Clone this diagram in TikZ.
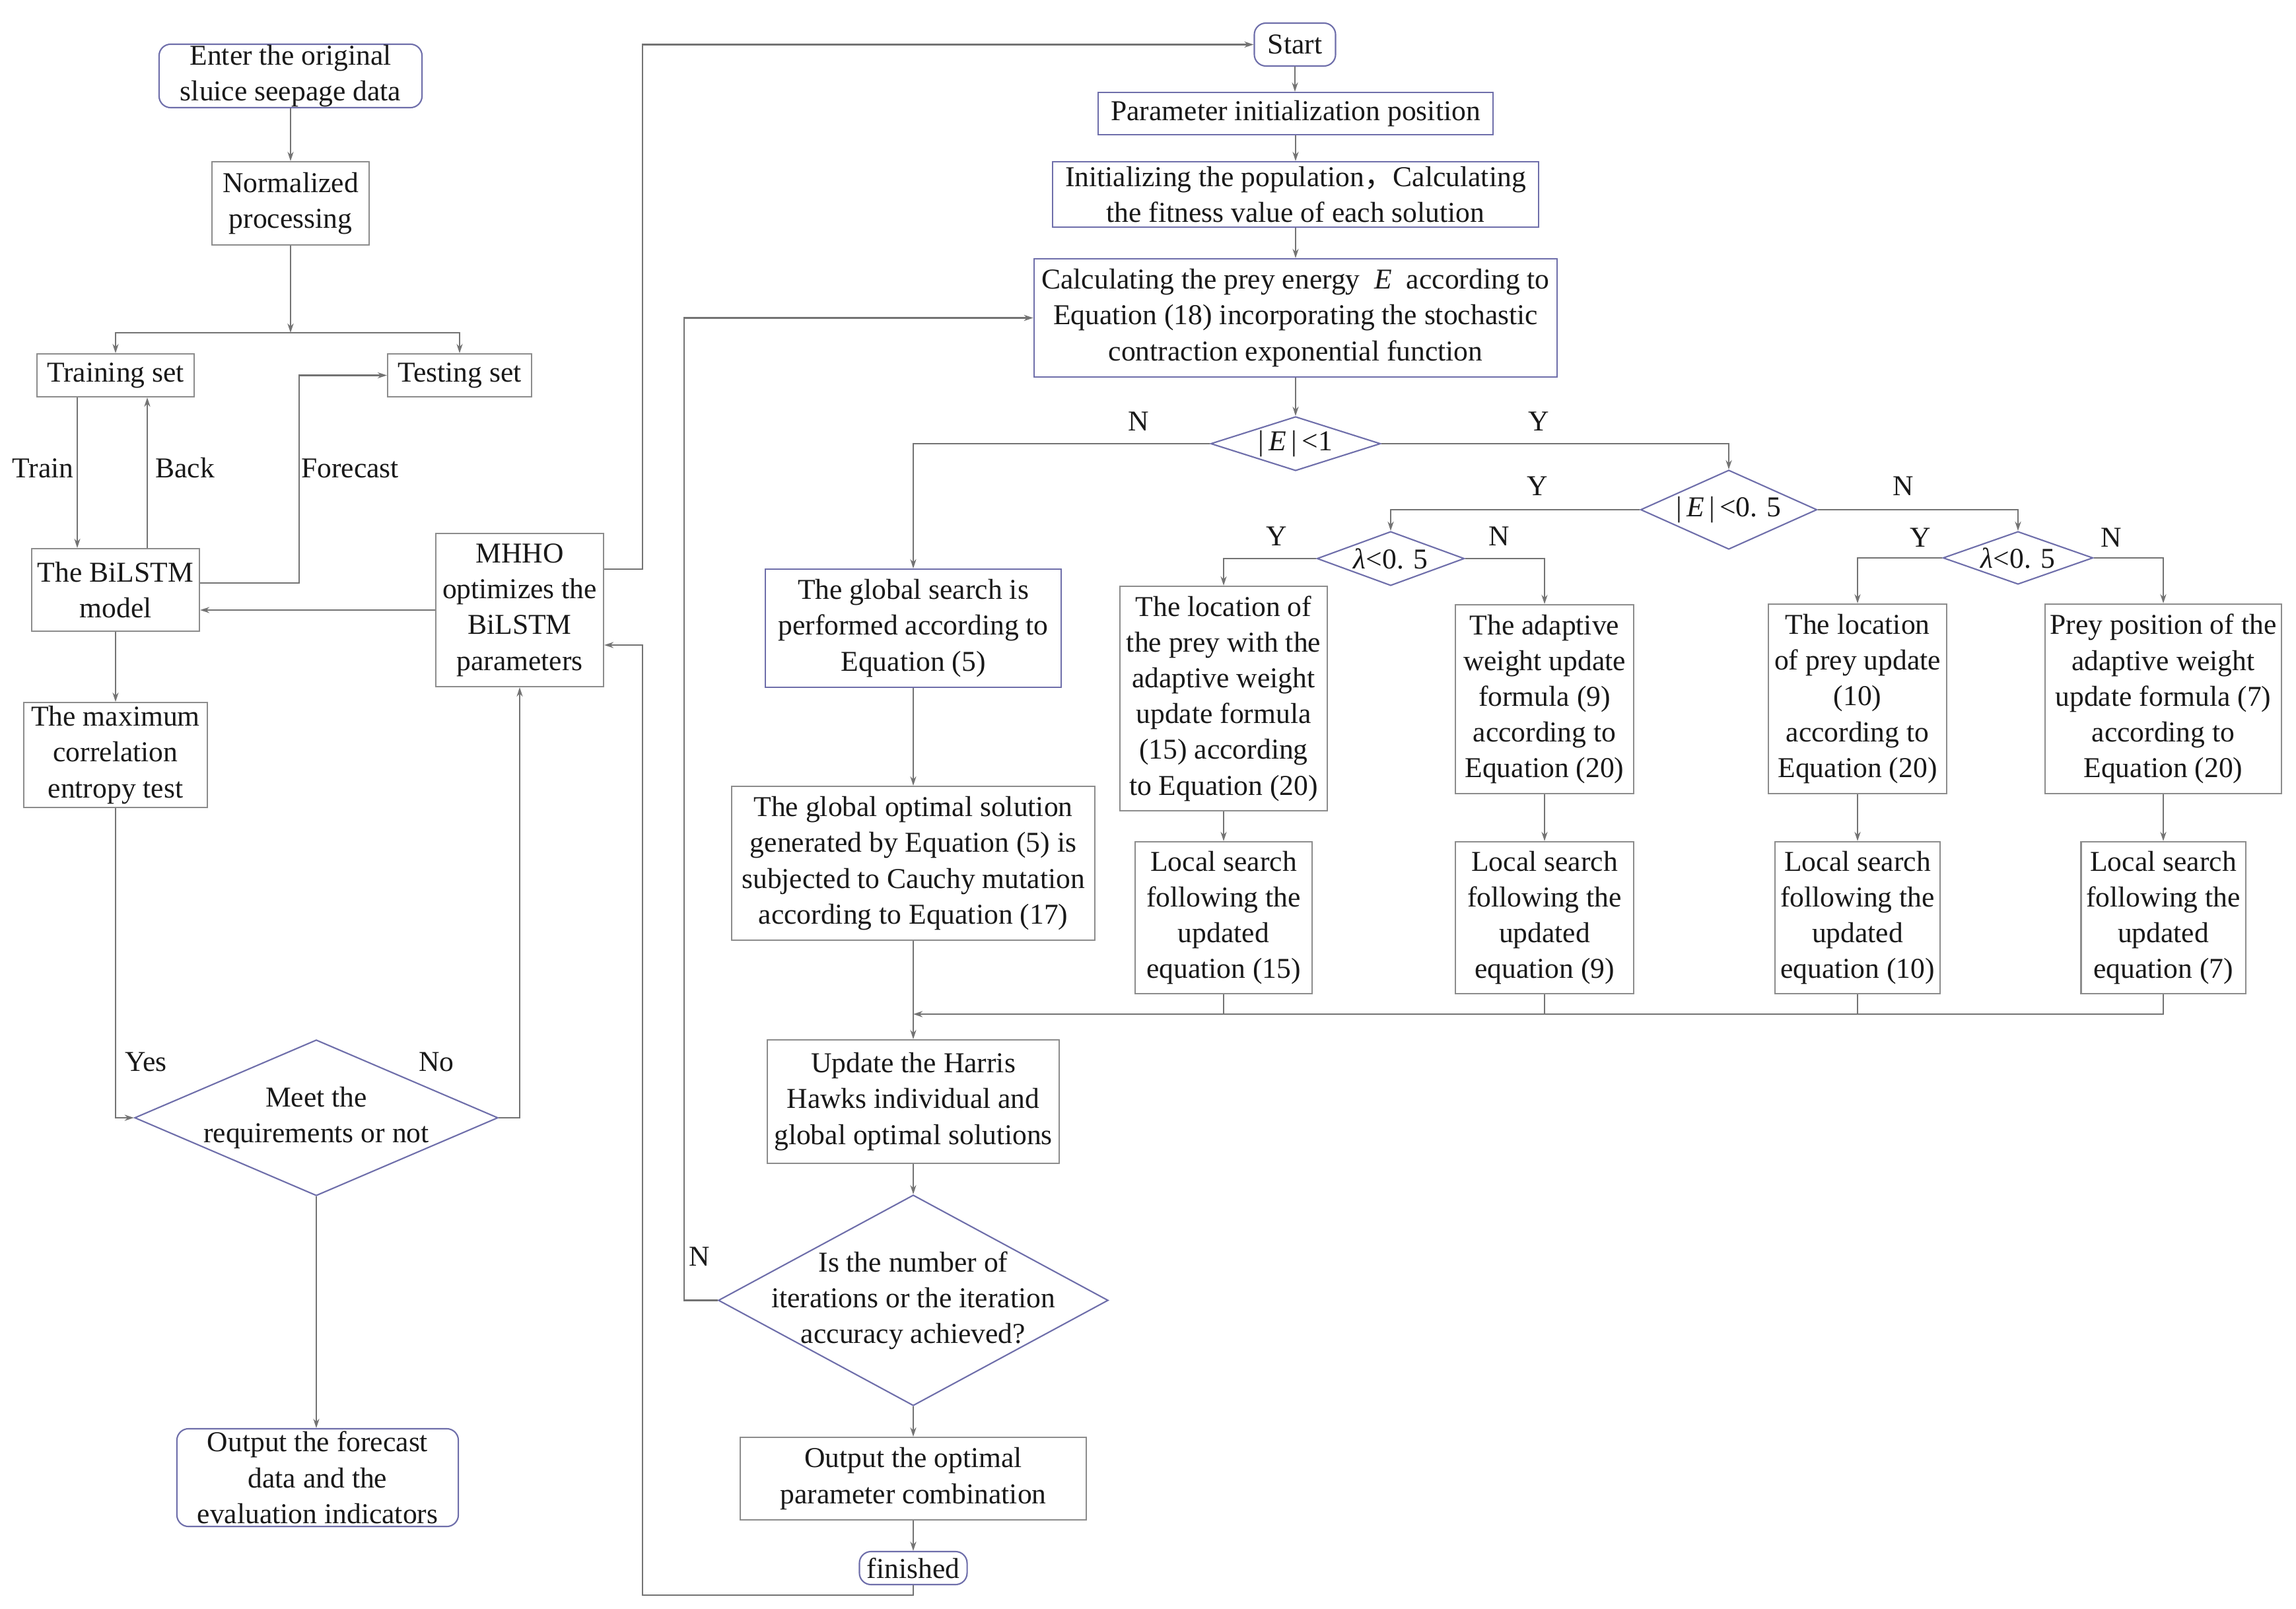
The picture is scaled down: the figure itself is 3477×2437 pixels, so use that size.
\documentclass[tikz,border=0pt]{standalone}
\usepackage{fontspec}
\setmainfont{Liberation Serif}
\newfontfamily\tnr{Liberation Serif}
\newfontfamily\cjk{Noto Sans CJK SC}
\usetikzlibrary{shapes.geometric,arrows.meta}
\definecolor{bl}{RGB}{110,110,170}
\definecolor{gr}{RGB}{140,140,140}
\definecolor{lnc}{RGB}{115,115,115}
\definecolor{tx}{RGB}{25,25,25}
\begin{document}
\begin{tikzpicture}[x=0.01cm,y=-0.01cm,
 every node/.style={font=\tnr\fontsize{12.4}{15.4}\selectfont, text=tx},
 gbox/.style={draw=gr, line width=0.6pt, rectangle, inner sep=0pt, align=center},
 bbox/.style={draw=bl, line width=0.6pt, rectangle, inner sep=0pt, align=center},
 rbox/.style={bbox, rounded corners=5pt},
 dia/.style={draw=bl, line width=0.6pt, diamond, inner sep=0pt},
 dtext/.style={inner sep=0pt, align=center},
 arr/.style={draw=lnc, line width=0.6pt, -{Stealth[length=4pt,width=2.6pt]}},
 lnk/.style={draw=lnc, line width=0.6pt},
 lab/.style={inner sep=0pt}]
\useasboundingbox (0,0) rectangle (3477,2437);
\fill[white] (0,0) rectangle (3477,2437);

% ---------- left part ----------
\node[rbox, minimum width=3.98cm, minimum height=0.96cm] (enter) at (440,115) {Enter the original\\sluice seepage data};
\node[gbox, minimum width=2.37cm, minimum height=1.26cm] (norm) at (440,308) {Normalized\\processing};
\node[gbox, minimum width=2.38cm, minimum height=0.65cm] (train) at (175,568.5) {Training set};
\node[gbox, minimum width=2.18cm, minimum height=0.65cm] (test) at (696,568.5) {Testing set};
\node[gbox, minimum width=2.54cm, minimum height=1.25cm] (bilstm) at (175,893.5) {The BiLSTM\\model};
\node[gbox, minimum width=2.54cm, minimum height=2.32cm] (mhho) at (787,924) {MHHO\\optimizes the\\BiLSTM\\parameters};
\node[gbox, minimum width=2.77cm, minimum height=1.59cm] (maxc) at (175,1143.5) {The maximum\\correlation\\entropy test};
\node[dia, minimum width=5.50cm, minimum height=2.36cm] (meet) at (479,1693) {};
\node[dtext] (meett) at (479,1693) {Meet the\\requirements or not};
\node[rbox, minimum width=4.26cm, minimum height=1.48cm] (outf) at (481,2238) {Output the forecast\\data and the\\evaluation indicators};

\node[lab] (lTrain) at (65,709) {Train};
\node[lab] (lBack) at (280,709) {Back};
\node[lab] (lFore) at (530,709) {Forecast};
\node[lab] (lYes) at (221,1608) {Yes};
\node[lab] (lNo) at (661,1608) {No};

% ---------- right part ----------
\node[rbox, minimum width=1.23cm, minimum height=0.65cm] (start) at (1961,67.5) {Start};
\node[bbox, minimum width=5.97cm, minimum height=0.64cm] (param) at (1962,172) {Parameter initialization position};
\node[bbox, minimum width=7.35cm, minimum height=0.99cm] (initp) at (1962,294.5) {Initializing the population{\cjk ，}Calculating\\the fitness value of each solution};
\node[bbox, minimum width=7.92cm, minimum height=1.79cm] (calc) at (1962,481.5) {Calculating the prey energy \ \textit{E} \ according to\\Equation (18) incorporating the stochastic\\contraction exponential function};
\node[dia, minimum width=2.57cm, minimum height=0.82cm] (d1) at (1962,672) {};
\node[dtext] (d1t) at (1962,672) {|\,\textit{E}\,|\,<1};
\node[dia, minimum width=2.67cm, minimum height=1.20cm] (d2) at (2618,772) {};
\node[dtext] (d2t) at (2618,772) {|\,\textit{E}\,|\,<0. 5};
\node[dia, minimum width=2.23cm, minimum height=0.82cm] (d3) at (2106,846) {};
\node[dtext] (d3t) at (2106,846) {\textit{λ}<0. 5};
\node[dia, minimum width=2.27cm, minimum height=0.80cm] (d4) at (3056,845) {};
\node[dtext] (d4t) at (3056,845) {\textit{λ}<0. 5};

\node[bbox, minimum width=4.48cm, minimum height=1.79cm] (gs) at (1383,951.5) {The global search is\\performed according to\\Equation (5)};
\node[gbox, minimum width=5.50cm, minimum height=2.33cm] (go) at (1383,1307.5) {The global optimal solution\\generated by Equation (5) is\\subjected to Cauchy mutation\\according to Equation (17)};

\node[gbox, minimum width=3.13cm, minimum height=3.40cm] (loc15) at (1853,1058) {The location of\\the prey with the\\adaptive weight\\update formula\\(15) according\\to Equation (20)};
\node[gbox, minimum width=2.70cm, minimum height=2.86cm] (ad9) at (2339,1059) {The adaptive\\weight update\\formula (9)\\according to\\Equation (20)};
\node[gbox, minimum width=2.70cm, minimum height=2.87cm] (loc10) at (2813,1058.5) {The location\\of prey update\\(10)\\according to\\Equation (20)};
\node[gbox, minimum width=3.57cm, minimum height=2.87cm] (prey7) at (3276,1058.5) {Prey position of the\\adaptive weight\\update formula (7)\\according to\\Equation (20)};

\node[gbox, minimum width=2.68cm, minimum height=2.30cm] (ls15) at (1853,1390) {Local search\\following the\\updated\\equation (15)};
\node[gbox, minimum width=2.70cm, minimum height=2.30cm] (ls9) at (2339,1390) {Local search\\following the\\updated\\equation (9)};
\node[gbox, minimum width=2.50cm, minimum height=2.30cm] (ls10) at (2813,1390) {Local search\\following the\\updated\\equation (10)};
\node[gbox, minimum width=2.49cm, minimum height=2.30cm] (ls7) at (3276,1390) {Local search\\following the\\updated\\equation (7)};

\node[gbox, minimum width=4.41cm, minimum height=1.87cm] (upd) at (1383,1668.5) {Update the Harris\\Hawks individual and\\global optimal solutions};
\node[dia, minimum width=5.90cm, minimum height=3.19cm] (d5) at (1383,1969.5) {};
\node[dtext] (d5t) at (1383,1970) {Is the number of\\iterations or the iteration\\accuracy achieved?};
\node[gbox, minimum width=5.23cm, minimum height=1.25cm] (outo) at (1383,2239.5) {Output the optimal\\parameter combination};
\node[rbox, minimum width=1.63cm, minimum height=0.50cm] (fin) at (1383,2375) {finished};

\node[lab] (n1) at (1724,638) {N};
\node[lab] (y1) at (2330,638) {Y};
\node[lab] (y2) at (2328,736) {Y};
\node[lab] (n2) at (2882,736) {N};
\node[lab] (y3) at (1933,812) {Y};
\node[lab] (n3) at (2270,812) {N};
\node[lab] (y4) at (2908,814) {Y};
\node[lab] (n4) at (3197,814) {N};
\node[lab] (n5) at (1059,1903) {N};

% ---------- connectors: left ----------
\coordinate (j1) at (440,504);
\draw[arr] (enter.south) -- (norm.north);
\draw[arr] (norm.south) -- (j1);
\draw[arr] (j1) -| (train.north);
\draw[arr] (j1) -| (test.north);
\coordinate (tx) at (117,0);
\coordinate (bx) at (223,0);
\draw[arr] (train.south -| tx) -- (bilstm.north -| tx);
\draw[arr] (bilstm.north -| bx) -- (train.south -| bx);
\coordinate (f1) at (453,883);
\draw[arr] (bilstm.east |- f1) -- (f1) |- (test.west);
\draw[arr] (mhho.west) -- (mhho.west -| bilstm.east);
\draw[arr] (bilstm.south) -- (bilstm.south |- maxc.north);
\draw[arr] (maxc.south) |- (meet.west);
\draw[arr] (meet.east) -| (mhho.south);
\draw[arr] (meet.south) -- (meet.south |- outf.north);
\coordinate (m1) at (973,862);
\draw[arr] (mhho.east |- m1) -- (m1) |- (start.west);
\coordinate (m2) at (973,2416);
\coordinate (m3) at (973,977);
\draw[arr] (fin.south) |- (m2) -- (m3) -- (mhho.east |- m3);

% ---------- connectors: right ----------
\draw[arr] (start.south) -- (start.south |- param.north);
\draw[arr] (param.south) -- (param.south |- initp.north);
\draw[arr] (initp.south) -- (initp.south |- calc.north);
\draw[arr] (calc.south) -- (calc.south |- d1.north);
\draw[arr] (d1.west) -| (gs.north);
\draw[arr] (d1.east) -| (d2.north);
\draw[arr] (d2.west) -| (d3.north);
\draw[arr] (d2.east) -| (d4.north);
\draw[arr] (d3.west) -| (loc15.north);
\draw[arr] (d3.east) -| (ad9.north);
\draw[arr] (d4.west) -| (loc10.north);
\draw[arr] (d4.east) -| (prey7.north);
\draw[arr] (loc15.south) -- (loc15.south |- ls15.north);
\draw[arr] (ad9.south) -- (ad9.south |- ls9.north);
\draw[arr] (loc10.south) -- (loc10.south |- ls10.north);
\draw[arr] (prey7.south) -- (prey7.south |- ls7.north);
\draw[arr] (gs.south) -- (gs.south |- go.north);
\coordinate (j2) at (1383,1536);
\draw[lnk] (ls15.south) -- (ls15.south |- j2);
\draw[lnk] (ls9.south) -- (ls9.south |- j2);
\draw[lnk] (ls10.south) -- (ls10.south |- j2);
\draw[arr] (ls7.south) |- (j2);
\draw[arr] (go.south) -- (go.south |- upd.north);
\draw[arr] (upd.south) -- (upd.south |- d5.north);
\coordinate (c1) at (1036,0);
\draw[arr] (d5.west) -- (d5.west -| c1) |- (calc.west);
\draw[arr] (d5.south) -- (d5.south |- outo.north);
\draw[arr] (outo.south) -- (outo.south |- fin.north);
\end{tikzpicture}
\end{document}
